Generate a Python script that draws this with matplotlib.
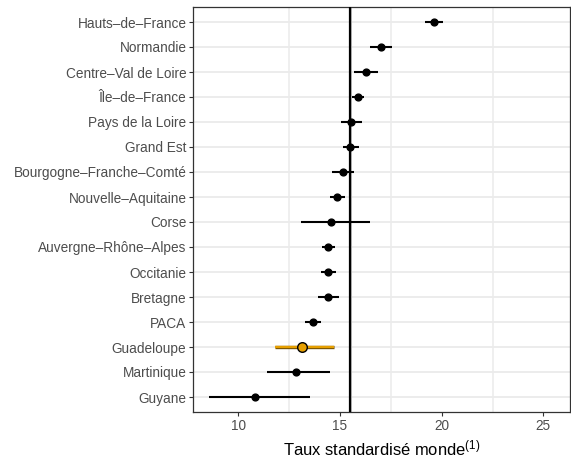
import matplotlib.pyplot as plt
import matplotlib.ticker as ticker

regions = ["Hauts\u2013de\u2013France", "Normandie", "Centre\u2013Val de Loire",
           "\u00cele\u2013de\u2013France", "Pays de la Loire", "Grand Est",
           "Bourgogne\u2013Franche\u2013Comt\u00e9", "Nouvelle\u2013Aquitaine",
           "Corse", "Auvergne\u2013Rh\u00f4ne\u2013Alpes", "Occitanie", "Bretagne",
           "PACA", "Guadeloupe", "Martinique", "Guyane"]
taux = [19.61, 17.02, 16.26, 15.90, 15.54, 15.51, 15.15, 14.87,
        14.57, 14.41, 14.41, 14.39, 13.67, 13.15, 12.82, 10.80]
ic_bas = [19.18, 16.49, 15.69, 15.61, 15.07, 15.13, 14.62, 14.52,
          13.06, 14.11, 14.05, 13.92, 13.29, 11.80, 11.41, 8.57]
ic_haut = [20.05, 17.56, 16.89, 16.17, 16.07, 15.93, 15.70, 15.26,
           16.49, 14.75, 14.80, 14.94, 14.08, 14.72, 14.51, 13.52]
taux_france = 15.51
france_bas = 15.44
france_haut = 15.58
highlight = "Guadeloupe"


def main():
    plt.rcParams["font.family"] = ["Liberation Sans", "DejaVu Sans"]
    plt.rcParams["mathtext.fontset"] = "custom"
    plt.rcParams["mathtext.rm"] = "Liberation Sans"
    plt.rcParams["mathtext.it"] = "Liberation Sans:italic"
    plt.rcParams["mathtext.bf"] = "Liberation Sans:bold"
    fig = plt.figure(figsize=(5.71, 4.59), dpi=100)
    ax = fig.add_axes([193 / 571, 1 - 412 / 459, 377 / 571, 405 / 459])

    n = len(regions)
    ypos = list(range(n - 1, -1, -1))

    # reference band + line
    ax.axvspan(france_bas, france_haut, color="#bdbdbd", zorder=2, lw=0)
    ax.axvline(taux_france, color="black", lw=1.6, zorder=3)

    for name, y, v, lo, hi in zip(regions, ypos, taux, ic_bas, ic_haut):
        if name == highlight:
            ax.plot([lo, hi], [y, y], color="#6b4a00", lw=2.4,
                    solid_capstyle="butt", zorder=4)
            ax.plot([lo, hi], [y, y], color="#E69F00", lw=1.7,
                    solid_capstyle="butt", zorder=5)
            ax.scatter([v], [y], s=48, color="#E69F00", edgecolor="black",
                       linewidth=1.0, zorder=6)
        else:
            ax.plot([lo, hi], [y, y], color="black", lw=1.5,
                    solid_capstyle="butt", zorder=4)
            ax.scatter([v], [y], s=24, color="black", zorder=6)

    ax.set_xlim(7.77, 26.31)
    ax.set_ylim(-0.6, n - 1 + 0.6)
    ax.set_xticks([10, 15, 20, 25])
    ax.xaxis.set_minor_locator(ticker.FixedLocator([12.5, 17.5, 22.5]))
    ax.set_yticks(ypos)
    ax.set_yticklabels(regions)

    ax.grid(False)
    for x in [12.5, 17.5, 22.5]:
        ax.axvline(x, color="#ebebeb", lw=1.1, zorder=0)
    for y in ypos:
        ax.axhline(y, color="#ebebeb", lw=1.3, zorder=0)

    ax.tick_params(axis="both", which="major", length=2.7, width=0.8,
                   color="#333333", labelcolor="#4d4d4d", labelsize=9.8,
                   pad=2)
    ax.tick_params(axis="x", which="minor", length=0)
    for sp in ax.spines.values():
        sp.set_color("#333333")
        sp.set_linewidth(0.9)

    ax.set_xlabel("Taux standardis\u00e9 monde$^{(1)}$", fontsize=11.9,
                  labelpad=4)
    fig.savefig("out.png", dpi=100)


if __name__ == "__main__":
    main()
